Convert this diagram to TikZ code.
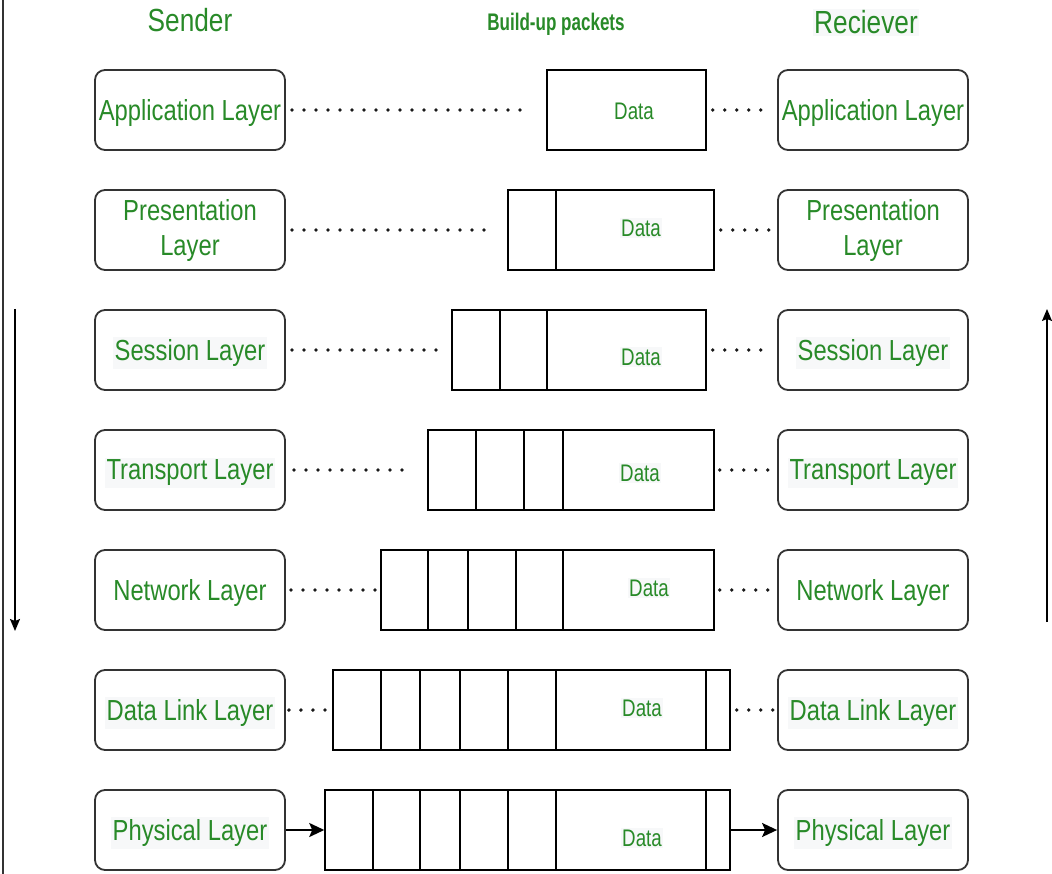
\documentclass[tikz,border=0pt]{standalone}
\usepackage{fontspec}
\setmainfont{Liberation Sans}[FakeStretch=0.82]
\newfontfamily\packetfont{Liberation Sans}[FakeStretch=0.78]
\newfontfamily\buildfont{Liberation Sans}[FakeStretch=0.71]
\usetikzlibrary{arrows.meta}
\definecolor{osigreen}{RGB}{40,138,40}
\definecolor{boxline}{RGB}{51,51,51}
\definecolor{faint}{RGB}{247,248,249}
\newcommand{\hlt}[1]{{\setlength{\fboxsep}{2pt}\colorbox{faint}{#1}}}
\tikzset{
  layer/.style={draw=boxline, line width=1.8pt, rounded corners=10pt,
    minimum width=190pt, minimum height=80pt, inner sep=0pt},
  layertext/.style={text=osigreen, font=\fontsize{29}{35}\selectfont,
    align=center, inner sep=0pt},
  packet/.style={draw=black, line width=1.5pt, minimum height=80pt, inner sep=0pt},
  divider/.style={draw=black, line width=1.5pt},
  datalabel/.style={text=osigreen, font=\packetfont\fontsize{24}{28}\selectfont, inner sep=1.5pt},
  shaded/.style={fill=faint},
  title/.style={text=osigreen, font=\fontsize{32}{38}\selectfont, anchor=base, inner sep=1.5pt},
  dots/.style={line width=3.8pt, line cap=round, dash pattern=on 0pt off 12pt, draw=black!90},
  flow/.style={line width=2pt, -{Stealth[length=15pt,width=14pt,inset=3pt]}},
  side/.style={line width=1.4pt, -{Stealth[length=12pt,width=10pt,inset=2pt]}},
}
\begin{document}
\begin{tikzpicture}[x=1pt,y=-1pt]
\useasboundingbox[fill=white] (0,0) rectangle (1052,874);

% frame line on the left edge
\coordinate (frameTop) at (3,0);
\coordinate (frameBot) at (3,874);
\draw[line width=1.4pt, boxline] (frameTop) -- (frameBot);

% headings
\node[title] (sender) at (190,32) {Sender};
\node[title, shaded] (receiver) at (866,34) {Reciever};
\node[text=osigreen, anchor=base, font=\buildfont\bfseries\fontsize{24}{28}\selectfont] (build) at (556,31) {Build-up packets};

% sender stack
\node[layer] (s1) at (190,110) {};
\node[layer] (s2) at (190,230) {};
\node[layer] (s3) at (190,350) {};
\node[layer] (s4) at (190,470) {};
\node[layer] (s5) at (190,590) {};
\node[layer] (s6) at (190,710) {};
\node[layer] (s7) at (190,830) {};
\node[layertext] (s1l) at ([yshift=-3pt]s1.center) {Application Layer};
\node[layertext] (s2l) at ([yshift=-1pt]s2.center) {Presentation\\Layer};
\node[layertext] (s3l) at ([yshift=-3pt]s3.center) {\hlt{Session Layer}};
\node[layertext] (s4l) at ([yshift=-3pt]s4.center) {\hlt{Transport Layer}};
\node[layertext] (s5l) at ([yshift=-3pt]s5.center) {Network Layer};
\node[layertext] (s6l) at ([yshift=-3pt]s6.center) {\hlt{Data Link Layer}};
\node[layertext] (s7l) at ([yshift=-3pt]s7.center) {\hlt{Physical Layer}};

% receiver stack
\node[layer] (r1) at (873,110) {};
\node[layer] (r2) at (873,230) {};
\node[layer] (r3) at (873,350) {};
\node[layer] (r4) at (873,470) {};
\node[layer] (r5) at (873,590) {};
\node[layer] (r6) at (873,710) {};
\node[layer] (r7) at (873,830) {};
\node[layertext] (r1l) at ([yshift=-3pt]r1.center) {Application Layer};
\node[layertext] (r2l) at ([yshift=-1pt]r2.center) {Presentation\\Layer};
\node[layertext] (r3l) at ([yshift=-3pt]r3.center) {\hlt{Session Layer}};
\node[layertext] (r4l) at ([yshift=-3pt]r4.center) {\hlt{Transport Layer}};
\node[layertext] (r5l) at ([yshift=-3pt]r5.center) {Network Layer};
\node[layertext] (r6l) at ([yshift=-3pt]r6.center) {\hlt{Data Link Layer}};
\node[layertext] (r7l) at ([yshift=-3pt]r7.center) {\hlt{Physical Layer}};

% packets, growing as headers are added
\node[packet, minimum width=159pt] (p1) at (626.5,110) {};
\node[packet, minimum width=206pt] (p2) at (611,230) {};
\node[packet, minimum width=254pt] (p3) at (579,350) {};
\node[packet, minimum width=286pt] (p4) at (571,470) {};
\node[packet, minimum width=333pt] (p5) at (547.5,590) {};
\node[packet, minimum width=397pt] (p6) at (531.5,710) {};
\node[packet, minimum width=405pt] (p7) at (527.5,830) {};

% header fields
\foreach \x in {556} \draw[divider] ({\x},0 |- p2.north) -- ({\x},0 |- p2.south);
\foreach \x in {500,547} \draw[divider] ({\x},0 |- p3.north) -- ({\x},0 |- p3.south);
\foreach \x in {476,524,563} \draw[divider] ({\x},0 |- p4.north) -- ({\x},0 |- p4.south);
\foreach \x in {428,468,516,563} \draw[divider] ({\x},0 |- p5.north) -- ({\x},0 |- p5.south);
\foreach \x in {381,420,460,508,556,706} \draw[divider] ({\x},0 |- p6.north) -- ({\x},0 |- p6.south);
\foreach \x in {373,420,460,508,556,706} \draw[divider] ({\x},0 |- p7.north) -- ({\x},0 |- p7.south);

% payload labels
\node[datalabel] (d1) at (634,111) {Data};
\node[datalabel, shaded] (d2) at (641,228) {Data};
\node[datalabel, shaded] (d3) at (641,357) {Data};
\node[datalabel, shaded] (d4) at (640,473) {Data};
\node[datalabel, shaded] (d5) at (649,588) {Data};
\node[datalabel, shaded] (d6) at (642,708) {Data};
\node[datalabel, shaded] (d7) at (642,838) {Data};

% peer-to-peer dotted links
\draw[dots, shorten <=6pt, shorten >=17pt] (s1.east) -- (p1.west);
\draw[dots, shorten <=6pt, shorten >=6pt] (p1.east) -- (r1.west);
\draw[dots, shorten <=6pt, shorten >=16pt] (s2.east) -- (p2.west);
\draw[dots, shorten <=6pt, shorten >=6pt] (p2.east) -- (r2.west);
\draw[dots, shorten <=6pt, shorten >=12pt] (s3.east) -- (p3.west);
\draw[dots, shorten <=6pt, shorten >=6pt] (p3.east) -- (r3.west);
\draw[dots, shorten <=8pt, shorten >=16pt] (s4.east) -- (p4.west);
\draw[dots, shorten <=5pt, shorten >=6pt] (p4.east) -- (r4.west);
\draw[dots, shorten <=5pt, shorten >=3pt] (s5.east) -- (p5.west);
\draw[dots, shorten <=5pt, shorten >=6pt] (p5.east) -- (r5.west);
\draw[dots, shorten <=3pt, shorten >=6pt] (s6.east) -- (p6.west);
\draw[dots, shorten <=6pt, shorten >=3pt] (p6.east) -- (r6.west);

% physical transfer
\draw[flow] (s7.east) -- (p7.west);
\draw[flow] (p7.east) -- (r7.west);

% direction of travel on each side
\coordinate (downTop) at (15,309);
\coordinate (downBot) at (15,631);
\draw[side] (downTop) -- (downBot);
\coordinate (upBot) at (1047,622);
\coordinate (upTop) at (1047,309);
\draw[side] (upBot) -- (upTop);
\end{tikzpicture}
\end{document}
